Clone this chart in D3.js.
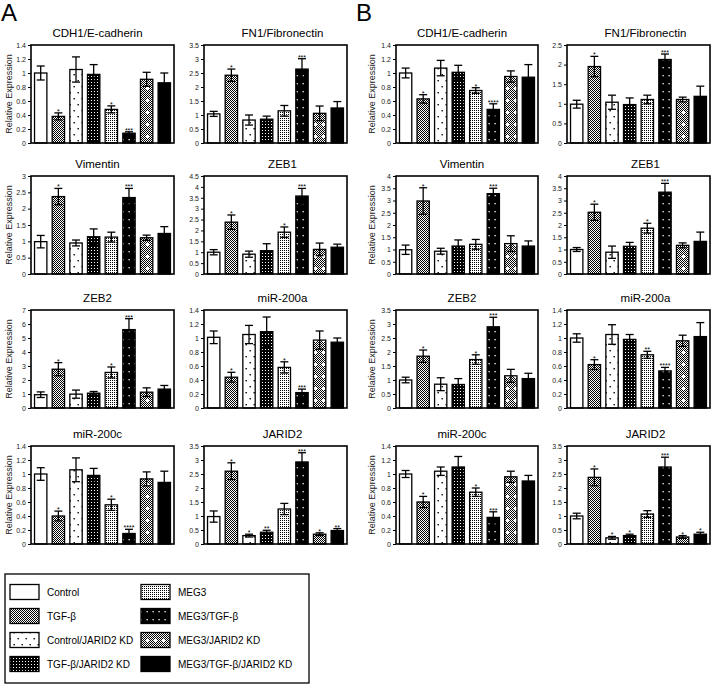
<!DOCTYPE html>
<html><head><meta charset="utf-8">
<script src="https://cdn.jsdelivr.net/npm/d3@7/dist/d3.min.js"></script>
<style>body{margin:0;background:#fff}text{font-family:"Liberation Sans",Arial,sans-serif}</style>
</head><body>
<svg id="chart" width="713" height="685"></svg>
<script>
// ---------- DATA ----------
const categories = ["Control","TGF-β","Control/JARID2 KD","TGF-β/JARID2 KD","MEG3","MEG3/TGF-β","MEG3/JARID2 KD","MEG3/TGF-β/JARID2 KD"];
const legendOrder = [0,4,1,5,2,6,3,7];

const titles = ["CDH1/E-cadherin","FN1/Fibronectin","Vimentin","ZEB1","ZEB2","miR-200a","miR-200c","JARID2"];

// Panel A
const aCdh1 = [1.0,0.38,1.05,0.98,0.48,0.14,0.91,0.86];
const aCdh1Err = [0.1,0.05,0.18,0.14,0.05,0.02,0.1,0.14];
const aCdh1Sig = ["","*","","","*","***","",""];
const aFn1 = [1.04,2.42,0.82,0.85,1.15,2.64,1.06,1.25];
const aFn1Err = [0.09,0.22,0.18,0.11,0.19,0.37,0.26,0.23];
const aFn1Sig = ["","*","","","","***","",""];
const aVim = [0.99,2.37,0.95,1.14,1.13,2.34,1.11,1.24];
const aVimErr = [0.19,0.25,0.09,0.24,0.15,0.28,0.08,0.21];
const aVimSig = ["","*","","","","***","",""];
const aZeb1 = [1.0,2.38,0.91,1.07,1.92,3.58,1.13,1.23];
const aZeb1Err = [0.12,0.33,0.14,0.32,0.24,0.35,0.29,0.14];
const aZeb1Sig = ["","*","","","*","***","",""];
const aZeb2 = [0.95,2.77,0.99,1.06,2.54,5.6,1.13,1.35];
const aZeb2Err = [0.2,0.47,0.29,0.12,0.39,0.78,0.31,0.26];
const aZeb2Sig = ["","*","","","*","***","",""];
const a200a = [1.01,0.44,1.05,1.09,0.58,0.22,0.97,0.94];
const a200aErr = [0.09,0.07,0.13,0.21,0.08,0.05,0.13,0.06];
const a200aSig = ["","*","","","*","***","",""];
const a200c = [1.0,0.4,1.06,0.98,0.56,0.15,0.93,0.88];
const a200cErr = [0.09,0.07,0.17,0.1,0.08,0.06,0.1,0.16];
const a200cSig = ["","*","","","*","****","",""];
const aJarid2 = [0.98,2.6,0.3,0.42,1.25,2.93,0.35,0.48];
const aJarid2Err = [0.2,0.3,0.05,0.07,0.2,0.33,0.05,0.07];
const aJarid2Sig = ["","*","*","**","","***","*","**"];

// Panel B
const bCdh1 = [1.0,0.63,1.07,1.01,0.75,0.48,0.95,0.94];
const bCdh1Err = [0.07,0.06,0.11,0.1,0.04,0.08,0.08,0.18];
const bCdh1Sig = ["","*","","","*","****","",""];
const bFn1 = [0.99,1.95,1.04,0.98,1.11,2.13,1.11,1.19];
const bFn1Err = [0.1,0.26,0.18,0.17,0.11,0.14,0.06,0.26];
const bFn1Sig = ["","*","","","","***","",""];
const bVim = [0.99,2.98,0.93,1.14,1.21,3.28,1.24,1.14];
const bVimErr = [0.19,0.54,0.12,0.25,0.2,0.22,0.32,0.21];
const bVimSig = ["","*","","","","***","",""];
const bZeb1 = [1.0,2.52,0.89,1.13,1.87,3.34,1.17,1.33];
const bZeb1Err = [0.08,0.33,0.25,0.16,0.2,0.36,0.1,0.38];
const bZeb1Sig = ["","*","","","*","***","",""];
const bZeb2 = [1.0,1.85,0.85,0.84,1.73,2.9,1.15,1.05];
const bZeb2Err = [0.1,0.22,0.23,0.21,0.17,0.34,0.23,0.19];
const bZeb2Sig = ["","*","","","*","***","",""];
const b200a = [1.0,0.62,1.05,0.98,0.76,0.53,0.96,1.02];
const b200aErr = [0.06,0.07,0.14,0.07,0.05,0.05,0.08,0.2];
const b200aSig = ["","*","","","**","****","",""];
const b200c = [1.0,0.6,1.04,1.1,0.74,0.38,0.96,0.9];
const b200cErr = [0.05,0.08,0.06,0.15,0.06,0.08,0.08,0.08];
const b200cSig = ["","*","","","*","***","",""];
const bJarid2 = [1.0,2.38,0.22,0.3,1.07,2.75,0.25,0.35];
const bJarid2Err = [0.1,0.3,0.05,0.05,0.12,0.35,0.05,0.07];
const bJarid2Sig = ["","*","*","*","","***","*","*"];

// y-axis maxima and tick steps
const axisMax  = [1.4,3.5,1.4,2.5, 3,4.5,4,4, 7,1.4,3.5,1.4, 1.4,3.5,1.4,3.5];
const axisStep = [0.2,0.5,0.2,0.5, 0.5,0.5,0.5,0.5, 1,0.2,0.5,0.2, 0.2,0.5,0.2,0.5];

// ---------- LAYOUT ----------
const colX = [[31,174],[204,347],[396,538],[567,710]];
const titleShift = [-5,7,-5,7];
const rowTop = [45,176,310,446];
const plotH = 98;

const panels = [
  [titles[0],aCdh1,aCdh1Err,aCdh1Sig],[titles[1],aFn1,aFn1Err,aFn1Sig],[titles[0],bCdh1,bCdh1Err,bCdh1Sig],[titles[1],bFn1,bFn1Err,bFn1Sig],
  [titles[2],aVim,aVimErr,aVimSig],[titles[3],aZeb1,aZeb1Err,aZeb1Sig],[titles[2],bVim,bVimErr,bVimSig],[titles[3],bZeb1,bZeb1Err,bZeb1Sig],
  [titles[4],aZeb2,aZeb2Err,aZeb2Sig],[titles[5],a200a,a200aErr,a200aSig],[titles[4],bZeb2,bZeb2Err,bZeb2Sig],[titles[5],b200a,b200aErr,b200aSig],
  [titles[6],a200c,a200cErr,a200cSig],[titles[7],aJarid2,aJarid2Err,aJarid2Sig],[titles[6],b200c,b200cErr,b200cSig],[titles[7],bJarid2,bJarid2Err,bJarid2Sig]
];

const svg = d3.select("#chart");
const defs = svg.append("defs");

// ---------- PATTERNS ----------
function pat(id,w,h,bg){
  const p = defs.append("pattern").attr("id",id).attr("patternUnits","userSpaceOnUse").attr("width",w).attr("height",h);
  p.append("rect").attr("width",w).attr("height",h).attr("fill",bg);
  return p;
}
// TGF-b : fine checker
let p = pat("pTgf",2,2,"#fff");
p.append("rect").attr("x",0).attr("y",0).attr("width",1).attr("height",1).attr("fill","#000");
p.append("rect").attr("x",1).attr("y",1).attr("width",1).attr("height",1).attr("fill","#000");
// Control/JARID2 KD : sparse black dots on white
p = pat("pCkd",8,12,"#fff");
p.append("rect").attr("x",1.5).attr("y",2).attr("width",1.4).attr("height",1.4).attr("fill","#000");
p.append("rect").attr("x",5.5).attr("y",8).attr("width",1.4).attr("height",1.4).attr("fill","#000");
// TGF-b/JARID2 KD : black with dense white dots
p = pat("pTkd",3,3,"#000");
p.append("rect").attr("x",1).attr("y",1).attr("width",1).attr("height",1).attr("fill","#fff");
// MEG3 : dense black stipple on white
p = pat("pMeg",2,2,"#fff");
p.append("rect").attr("x",0).attr("y",0).attr("width",1).attr("height",1).attr("fill","#000");
// MEG3/TGF-b : black with sparse white dots
p = pat("pMt",6,8,"#000");
p.append("rect").attr("x",2.5).attr("y",3).attr("width",1.3).attr("height",1.3).attr("fill","#fff");
// MEG3/JARID2 KD : checker with white crosses
p = defs.append("pattern").attr("id","pMkd").attr("patternUnits","userSpaceOnUse").attr("width",8).attr("height",12);
p.append("rect").attr("width",8).attr("height",12).attr("fill","url(#pTgf)");
p.append("rect").attr("x",2).attr("y",4).attr("width",3).attr("height",1).attr("fill","#fff");
p.append("rect").attr("x",3).attr("y",3).attr("width",1).attr("height",3).attr("fill","#fff");

const fills = ["#fff","url(#pTgf)","url(#pCkd)","url(#pTkd)","url(#pMeg)","url(#pMt)","url(#pMkd)","#000"];

const fmt = d => String(+d.toFixed(2));

// ---------- PANELS ----------
panels.forEach((pd,i)=>{
  const [title,vals,errs,sigs] = pd;
  const c = i%4, r = Math.floor(i/4);
  const [x0,x1] = colX[c];
  const top = rowTop[r], bot = top+plotH;
  const x = d3.scaleBand().domain(categories).range([x0,x1]).paddingInner(0.3).paddingOuter(0.2);
  const y = d3.scaleLinear().domain([0,axisMax[i]]).range([bot,top]);
  const g = svg.append("g");

  g.append("text").attr("x",(x0+x1)/2+titleShift[c]).attr("y",top-8)
    .attr("text-anchor","middle").attr("font-size",11.5).text(title);

  const ticks = d3.range(0,axisMax[i]+1e-9,axisStep[i]);
  const ax = g.append("g").attr("transform",`translate(${x0},0)`)
    .call(d3.axisLeft(y).tickValues(ticks).tickSize(3).tickPadding(2).tickFormat(fmt));
  ax.select(".domain").remove();
  ax.selectAll("line").attr("stroke","#000");
  ax.selectAll("text").attr("font-size",7).attr("fill","#222").attr("font-family","'Liberation Sans',Arial,sans-serif");

  if(c===0||c===2){
    g.append("text").attr("transform",`translate(${c===0?12:375},${(top+bot)/2}) rotate(-90)`)
      .attr("text-anchor","middle").attr("font-size",9).attr("fill","#222").text("Relative Expression");
  }

  const bw = x.bandwidth();
  categories.forEach((cat,k)=>{
    const v = vals[k], e = errs[k], cx = x(cat)+bw/2;
    g.append("rect").attr("x",x(cat)).attr("y",y(v)).attr("width",bw).attr("height",y(0)-y(v))
      .attr("fill",fills[k]).attr("stroke","#000").attr("stroke-width",1.3);
    const eb = g.append("g").attr("stroke","#000").attr("stroke-width",1.3);
    eb.append("line").attr("x1",cx).attr("x2",cx).attr("y1",y(v-e)).attr("y2",y(v+e));
    eb.append("line").attr("x1",cx-4).attr("x2",cx+4).attr("y1",y(v+e)).attr("y2",y(v+e));
    eb.append("line").attr("x1",cx-4).attr("x2",cx+4).attr("y1",y(v-e)).attr("y2",y(v-e));
    if(sigs[k]){
      g.append("text").attr("x",cx).attr("y",y(v+e)+1).attr("text-anchor","middle")
        .attr("font-size",7).text(sigs[k]);
    }
  });

  g.append("rect").attr("x",x0).attr("y",top).attr("width",x1-x0).attr("height",plotH)
    .attr("fill","none").attr("stroke","#000").attr("stroke-width",1.6);
});

// ---------- LABELS ----------
svg.append("text").attr("x",1).attr("y",21).attr("font-size",24).text("A");
svg.append("text").attr("x",356).attr("y",21).attr("font-size",24).text("B");

// ---------- LEGEND ----------
const lg = svg.append("g");
lg.append("rect").attr("x",5).attr("y",574).attr("width",304).attr("height",109)
  .attr("fill","#fff").attr("stroke","#000").attr("stroke-width",1.3);
legendOrder.forEach((k,j)=>{
  const col = j%2, row = Math.floor(j/2);
  const sx = col===0?10:141, cy = 592+row*24;
  lg.append("rect").attr("x",sx).attr("y",cy-7.5).attr("width",29).attr("height",15)
    .attr("fill",fills[k]).attr("stroke","#000").attr("stroke-width",1.3);
  lg.append("text").attr("x",sx+37).attr("y",cy+3.5).attr("font-size",10).text(categories[k]);
});
</script>
</body></html>
